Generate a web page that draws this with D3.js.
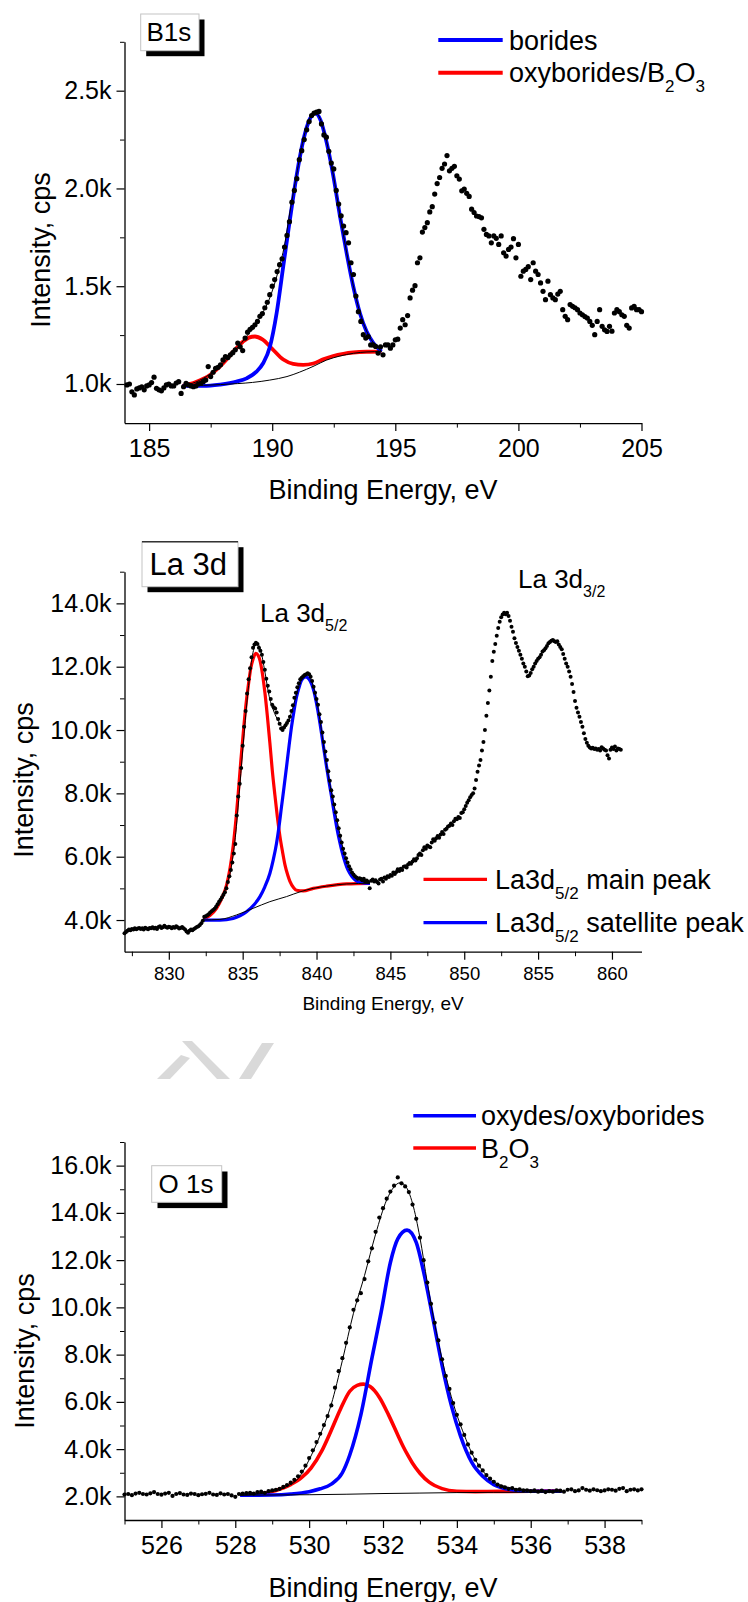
<!DOCTYPE html>
<html>
<head>
<meta charset="utf-8">
<script src="https://cdn.jsdelivr.net/npm/d3@7"></script>
<style>
  body { margin: 0; background: #fff; }
  svg { display: block; }
  text { font-family: 'Liberation Sans', Arial, Helvetica, sans-serif; fill: #000; white-space: pre; }
</style>
</head>
<body>
<svg id="chart" width="748" height="1602"></svg>
<script>
// ---------------- B 1s ----------------
const b1sStart = 184.1, b1sStep = 0.1;            // energy grid of the measured points (eV)
const b1sCounts = [                                 // intensity, k cps
  0.995,1.0,0.96,0.944,0.975,0.98,0.985,0.97,0.99,0.995,
  1.007,1.035,0.978,0.97,0.965,0.98,0.995,1.0,0.99,0.99,
  1.005,1.012,0.952,0.986,1.003,0.995,0.99,0.986,0.99,1.0,
  1.003,1.012,1.02,1.089,1.038,1.06,1.08,1.085,1.098,1.123,
  1.14,1.135,1.149,1.16,1.175,1.209,1.19,1.171,1.235,1.265,
  1.28,1.29,1.303,1.32,1.346,1.36,1.39,1.418,1.457,1.5,
  1.534,1.575,1.61,1.64,1.7,1.76,1.83,1.93,1.99,2.05,
  2.147,2.193,2.25,2.3,2.342,2.373,2.385,2.39,2.394,2.33,
  2.274,2.262,2.19,2.13,2.1,1.99,1.92,1.86,1.808,1.774,
  1.722,1.62,1.56,1.45,1.37,1.32,1.252,1.235,1.243,1.2,
  1.2,1.192,1.158,1.19,1.149,1.2,1.2,1.183,1.2,1.226,
  1.229,1.286,1.329,1.303,1.35,1.44,1.48,1.503,1.62,1.645,
  1.777,1.8,1.825,1.88,1.907,1.971,2.025,2.056,2.103,2.125,
  2.168,2.09,2.103,2.113,2.065,2.048,1.988,1.997,1.975,1.959,
  1.894,1.877,1.859,1.856,1.85,1.791,1.765,1.757,1.722,1.757,
  1.745,1.714,1.757,1.671,1.654,1.688,1.7,1.743,1.645,1.714,
  1.551,1.577,1.586,1.6,1.534,1.62,1.577,1.56,1.517,1.474,
  1.431,1.526,1.457,1.44,1.431,1.46,1.474,1.38,1.346,1.329,
  1.406,1.397,1.39,1.38,1.363,1.354,1.345,1.337,1.32,1.3,
  1.252,1.32,1.38,1.295,1.277,1.269,1.295,1.27,1.363,1.38,
  1.37,1.354,1.346,1.3,1.286,1.389,1.397,1.38,1.38,1.37
];
const b1sBackground = [[186.36,0.99],[187.2,0.993],[187.9,0.997],[188.6,1.002],[189.2,1.008],[189.9,1.02],
  [190.6,1.038],[191.1,1.06],[191.7,1.092],[192.2,1.122],[192.75,1.143],[193.3,1.157],[193.85,1.164],[194.44,1.166]];
const b1sOxyborides = [[186.36,0.99],[186.9,1.01],[187.47,1.046],[188.0,1.105],[188.4,1.163],[188.8,1.215],
  [189.05,1.237],[189.3,1.243],[189.6,1.228],[190.0,1.18],[190.45,1.125],[190.85,1.103],[191.26,1.098],
  [191.67,1.105],[192.07,1.126],[192.48,1.143],[192.89,1.154],[193.29,1.161],[193.83,1.165],[194.44,1.166]];
const b1sBorides = [[186.36,0.99],[187.2,0.99],[187.87,0.997],[188.55,1.012],[188.96,1.029],[189.36,1.063],
  [189.63,1.106],[189.91,1.192],[190.18,1.363],[190.45,1.603],[190.72,1.842],[190.99,2.065],[191.26,2.245],
  [191.53,2.356],[191.75,2.385],[191.97,2.347],[192.21,2.236],[192.48,2.065],[192.75,1.86],[193.02,1.671],
  [193.29,1.5],[193.56,1.363],[193.83,1.269],[194.11,1.209],[194.44,1.166]];
const b1sEnvelope = [[186.36,0.99],[186.9,1.01],[187.47,1.05],[188.0,1.105],[188.55,1.18],[189.0,1.25],
  [189.5,1.34],[189.9,1.44],[190.25,1.58],[190.5,1.71],[190.72,1.88],[190.99,2.07],[191.26,2.25],[191.53,2.36],
  [191.75,2.388],[191.97,2.35],[192.21,2.24],[192.48,2.07],[192.75,1.865],[193.02,1.675],[193.29,1.505],
  [193.56,1.367],[193.83,1.272],[194.11,1.21],[194.44,1.167]];
const b1sXMajor = [185, 190, 195, 200, 205], b1sXMinor = [187.5, 192.5, 197.5, 202.5];
const b1sYMajor = [1.0, 1.5, 2.0, 2.5],     b1sYMinor = [1.25, 1.75, 2.25, 2.75];

// ---------------- La 3d ----------------
const la3dStart = 827.0, la3dStep = 0.1;
const la3dCounts = [
  3.58,3.62,3.66,3.7,3.68,3.72,3.7,3.74,3.71,3.73,
  3.75,3.72,3.74,3.7,3.76,3.73,3.71,3.75,3.74,3.77,
  3.73,3.76,3.72,3.78,3.8,3.75,3.77,3.82,3.78,3.76,
  3.79,3.77,3.74,3.78,3.76,3.8,3.77,3.73,3.75,3.78,
  3.74,3.7,3.64,3.6,3.66,3.7,3.68,3.72,3.75,3.78,
  3.8,3.84,3.9,3.98,4.1,4.12,4.15,4.18,4.24,4.28,
  4.32,4.36,4.42,4.5,4.58,4.64,4.72,4.8,4.88,5.0,
  5.2,5.38,5.58,5.82,6.1,6.4,7.3,7.9,8.3,8.8,
  9.5,10.1,10.6,11.15,11.6,11.95,12.3,12.6,12.7,12.76,
  12.72,12.6,12.5,12.38,12.15,11.9,11.62,11.4,11.22,10.98,
  10.8,10.72,10.68,10.55,10.35,10.2,10.05,10.0,10.08,10.15,
  10.22,10.3,10.42,10.6,10.78,11.02,11.18,11.35,11.48,11.6,
  11.65,11.7,11.74,11.76,11.79,11.76,11.68,11.55,11.37,11.18,
  10.98,10.8,10.5,10.25,9.92,9.62,9.32,9.05,8.7,8.4,
  8.1,7.9,7.65,7.4,7.15,6.9,6.66,6.45,6.25,6.1,
  5.95,5.82,5.7,5.6,5.5,5.44,5.38,5.34,5.3,5.32,
  5.3,5.26,5.3,5.22,5.25,5.2,5.0,5.24,5.28,5.22,
  5.26,5.2,5.15,5.28,5.3,5.22,5.34,5.3,5.38,5.36,
  5.42,5.4,5.5,5.45,5.52,5.6,5.55,5.62,5.58,5.68,
  5.7,5.66,5.75,5.8,5.78,5.85,5.92,5.88,5.95,6.05,
  6.1,6.05,6.2,6.3,6.25,6.35,6.32,6.3,6.45,6.55,
  6.5,6.58,6.65,6.6,6.7,6.78,6.72,6.85,6.88,6.95,
  6.98,7.05,7.0,7.12,7.2,7.18,7.25,7.22,7.38,7.4,
  7.5,7.6,7.7,7.78,7.88,7.95,8.0,8.15,8.42,8.68,
  8.88,9.05,9.35,9.62,10.0,10.45,10.85,11.25,11.68,12.18,
  12.47,12.72,12.98,13.22,13.42,13.56,13.65,13.7,13.66,13.7,
  13.6,13.45,13.26,13.1,12.9,12.75,12.62,12.5,12.38,12.25,
  12.1,12.0,11.85,11.7,11.72,11.8,11.92,12.0,12.1,12.18,
  12.25,12.3,12.38,12.48,12.52,12.58,12.65,12.74,12.78,12.82,
  12.84,12.8,12.78,12.8,12.7,12.62,12.55,12.4,12.25,12.1,
  12.0,11.85,11.68,11.45,11.2,10.92,10.7,10.55,10.42,10.25,
  10.1,9.9,9.72,9.6,9.5,9.45,9.42,9.44,9.4,9.42,
  9.38,9.4,9.35,9.46,9.42,9.38,9.35,9.2,9.1,9.38,
  9.45,9.4,9.48,9.35,9.42,9.4,9.38
];
const la3dBackground = [[832.33,4.0],[833.46,4.02],[834.58,4.16],[835.71,4.37],[836.84,4.58],[837.97,4.74],
  [838.88,4.89],[839.78,5.0],[840.68,5.07],[842.04,5.14],[843.62,5.16]];
const la3dMain = [[832.33,4.03],[832.8,4.15],[833.23,4.37],[833.6,4.7],[833.91,5.1],[834.15,5.65],[834.36,6.35],
  [834.55,7.2],[834.7,8.0],[834.87,9.0],[835.04,9.9],[835.2,10.7],[835.38,11.4],[835.55,11.95],[835.71,12.25],
  [835.89,12.42],[836.05,12.35],[836.17,12.2],[836.33,11.8],[836.5,11.2],[836.67,10.45],[836.84,9.6],[837.0,8.75],
  [837.18,7.95],[837.35,7.25],[837.52,6.65],[837.7,6.15],[837.86,5.75],[838.05,5.42],[838.2,5.22],[838.45,5.02],
  [838.65,4.94],[839.1,4.92],[839.78,5.0],[840.68,5.07],[842.04,5.14],[843.62,5.16]];
const la3dSatellite = [[832.33,4.0],[833.46,4.0],[834.36,4.05],[835.26,4.26],[835.8,4.5],[836.17,4.74],[836.5,5.05],
  [836.84,5.47],[837.07,5.9],[837.29,6.42],[837.46,6.95],[837.63,7.58],[837.8,8.2],[837.97,8.84],[838.14,9.5],
  [838.31,10.11],[838.48,10.62],[838.65,11.05],[838.82,11.35],[838.99,11.58],[839.28,11.68],[839.5,11.6],
  [839.67,11.45],[839.84,11.2],[840.0,10.84],[840.17,10.4],[840.34,9.89],[840.51,9.35],[840.68,8.84],[840.85,8.35],
  [841.02,7.89],[841.19,7.4],[841.36,6.95],[841.53,6.55],[841.7,6.21],[841.87,5.92],[842.04,5.68],[842.25,5.48],
  [842.49,5.32],[842.75,5.22],[843.06,5.18],[843.62,5.16]];
const la3dEnvelope = [[832.33,4.05],[832.8,4.2],[833.3,4.45],[833.8,4.95],[834.2,5.6],[834.5,6.6],[834.8,8.2],
  [835.1,9.9],[835.4,11.4],[835.7,12.45],[835.95,12.75],[836.2,12.55],[836.5,11.85],[836.8,11.05],[837.1,10.6],
  [837.4,10.3],[837.7,10.1],[838.0,10.2],[838.3,10.55],[838.6,11.05],[838.9,11.5],[839.2,11.72],[839.45,11.75],
  [839.7,11.5],[840.0,10.95],[840.3,10.1],[840.6,9.1],[840.9,8.3],[841.2,7.6],[841.5,6.9],[841.8,6.25],
  [842.1,5.8],[842.4,5.5],[842.8,5.3],[843.2,5.2],[843.62,5.16]];
const la3dXMajor = [830, 835, 840, 845, 850, 855, 860];
const la3dXMinor = [827.5, 832.5, 837.5, 842.5, 847.5, 852.5, 857.5];
const la3dYMajor = [4, 6, 8, 10, 12, 14], la3dYMinor = [5, 7, 9, 11, 13, 15];

// ---------------- O 1s ----------------
const o1sStart = 525.0, o1sStep = 0.1;
const o1sCounts = [
  2.08,2.1,2.05,2.12,2.15,2.1,2.08,2.13,2.18,2.1,
  2.07,2.12,2.15,2.02,2.1,2.14,2.08,2.06,2.12,2.1,
  2.05,2.09,2.11,2.15,2.08,2.06,2.13,2.08,2.1,2.04,
  1.98,2.1,2.12,2.14,2.15,2.12,2.18,2.2,2.15,2.22,
  2.25,2.28,2.32,2.4,2.48,2.58,2.7,2.85,3.05,3.3,
  3.62,3.95,4.3,4.65,5.02,5.4,5.85,6.6,7.3,7.85,
  8.5,9.15,9.9,10.3,10.6,11.2,11.95,12.5,13.2,13.8,
  14.2,14.6,14.9,15.15,15.5,15.25,15.12,14.88,14.35,13.75,
  12.95,12.0,11.05,10.15,9.35,8.6,7.8,7.1,6.55,5.95,
  5.45,5.05,4.6,4.2,3.85,3.55,3.3,3.1,2.9,2.75,
  2.62,2.5,2.42,2.38,2.32,2.35,2.28,2.3,2.25,2.26,
  2.22,2.25,2.2,2.24,2.18,2.22,2.2,2.26,2.24,2.2,
  2.28,2.3,2.22,2.25,2.35,2.28,2.24,2.3,2.26,2.22,
  2.25,2.3,2.28,2.24,2.32,2.35,2.22,2.28,2.3,2.25,
  2.3
];
const o1sBackground = [[528.13,2.05],[530.0,2.07],[531.0,2.09],[532.0,2.12],[533.0,2.14],[534.0,2.16],
  [535.0,2.17],[536.84,2.18]];
const o1sB2O3 = [[528.17,2.06],[528.6,2.1],[529.1,2.25],[529.5,2.5],[529.8,2.8],[530.05,3.2],[530.35,3.95],
  [530.6,4.8],[530.85,5.7],[531.1,6.45],[531.3,6.7],[531.47,6.75],[531.65,6.65],[531.9,6.2],[532.15,5.45],
  [532.4,4.6],[532.55,4.1],[532.68,3.72],[532.8,3.4],[533.0,2.98],[533.25,2.6],[533.6,2.33],[534.0,2.22],
  [534.5,2.2],[535.2,2.21],[536.0,2.22],[536.84,2.24]];
const o1sOxydes = [[528.13,2.05],[529.0,2.06],[529.5,2.1],[530.0,2.2],[530.3,2.32],[530.6,2.52],[530.9,3.0],
  [531.1,3.75],[531.4,5.45],[531.7,7.85],[531.95,9.8],[532.2,11.9],[532.4,12.9],[532.65,13.27],[532.9,12.75],
  [533.1,11.5],[533.35,9.55],[533.6,7.55],[533.85,5.85],[534.1,4.55],[534.4,3.45],[534.7,2.85],[535.0,2.5],
  [535.4,2.3],[535.9,2.22],[536.84,2.22]];
const o1sEnvelope = [[528.13,2.05],[528.6,2.1],[529.0,2.2],[529.4,2.42],[529.7,2.75],[530.0,3.55],[530.3,4.6],
  [530.6,5.9],[530.9,7.75],[531.2,9.75],[531.5,11.35],[531.8,13.1],[532.1,14.55],[532.3,15.1],[532.45,15.27],
  [532.6,15.15],[532.8,14.4],[533.0,12.95],[533.2,11.05],[533.4,9.3],[533.6,7.8],[533.8,6.5],[534.0,5.45],
  [534.2,4.6],[534.4,3.85],[534.6,3.3],[534.8,2.9],[535.0,2.62],[535.3,2.42],[535.7,2.3],[536.2,2.24],[536.84,2.22]];
const o1sXMajor = [526, 528, 530, 532, 534, 536, 538], o1sXMinor = [525, 527, 529, 531, 533, 535, 537, 539];
const o1sYMajor = [2, 4, 6, 8, 10, 12, 14, 16],      o1sYMinor = [3, 5, 7, 9, 11, 13, 15, 17];

// ---------------- drawing ----------------
const svg = d3.select("#chart");
const FONT = "'Liberation Sans', Arial, Helvetica, sans-serif";
const BLUE = "#0000ff", RED = "#ff0000";
const X0 = 124.5, X1 = 641.5;

// faint watermark fragment behind the lower panel
svg.append("g").attr("fill", "#d9d9d9").selectAll("path")
  .data([
    "M157,1079 L170,1079 L190,1058 L181,1055 Z",
    "M182,1041 L192,1041 L230,1079 L217,1079 Z",
    "M262,1043 L274,1043 L251,1079 L239,1079 Z"
  ]).join("path").attr("d", d => d);

function seriesPoints(start, step, vals) {
  return vals.map((v, i) => [start + i * step, v]);
}

function drawPanel(p) {
  const x = d3.scaleLinear().domain(p.xDomain).range([X0, X1]);
  const y = d3.scaleLinear().domain(p.yDomain).range(p.yRange);
  const g = svg.append("g");
  const yBase = p.yRange[0];

  // minor ticks
  g.append("g").attr("transform", `translate(0,${yBase})`)
    .call(d3.axisBottom(x).tickValues(p.xMinor).tickSize(4.5).tickSizeOuter(0).tickFormat(""))
    .call(s => s.select(".domain").remove());
  g.append("g").attr("transform", `translate(${X0},0)`)
    .call(d3.axisLeft(y).tickValues(p.yMinor).tickSize(4.5).tickSizeOuter(0).tickFormat(""))
    .call(s => s.select(".domain").remove());

  // major ticks with labels
  const xa = g.append("g").attr("transform", `translate(0,${yBase})`)
    .call(d3.axisBottom(x).tickValues(p.xMajor).tickSize(8).tickSizeOuter(0)
      .tickPadding(p.xPad).tickFormat(d3.format("d")));
  const ya = g.append("g").attr("transform", `translate(${X0},0)`)
    .call(d3.axisLeft(y).tickValues(p.yMajor).tickSize(8).tickSizeOuter(0)
      .tickPadding(5).tickFormat(d => d3.format(".1f")(d) + "k"));
  [xa, ya].forEach(a => {
    a.attr("font-family", FONT);
    a.selectAll("line").attr("stroke", "#000").attr("stroke-width", 1.2);
    a.select(".domain").attr("stroke", "#000").attr("stroke-width", 1.3);
  });
  xa.selectAll("text").attr("font-size", p.xFont).attr("fill", "#000");
  ya.selectAll("text").attr("font-size", 25).attr("fill", "#000");

  const line = d3.line().x(d => x(d[0])).y(d => y(d[1])).curve(d3.curveMonotoneX);
  const plot = g.append("g").attr("fill", "none");
  plot.append("path").attr("d", line(p.red)).attr("stroke", RED).attr("stroke-width", p.lw);
  plot.append("path").attr("d", line(p.blue)).attr("stroke", BLUE).attr("stroke-width", p.lw);
  plot.append("path").attr("d", line(p.bg)).attr("stroke", "#000").attr("stroke-width", 1);
  plot.append("path").attr("d", line(p.env)).attr("stroke", "#000").attr("stroke-width", 1);

  g.append("g").selectAll("circle").data(p.points).join("circle")
    .attr("cx", d => x(d[0])).attr("cy", d => y(d[1])).attr("r", p.r).attr("fill", "#000");

  // axis titles
  g.append("text").attr("x", (X0 + X1) / 2).attr("y", p.xTitleY).attr("text-anchor", "middle")
    .attr("font-size", p.xTitleSize).text("Binding Energy, eV");
  g.append("text").attr("transform", `translate(${p.yTitleX},${p.yTitleCy}) rotate(-90)`)
    .attr("text-anchor", "middle").attr("font-size", 27).text("Intensity, cps");
  return { x, y, g };
}

function labelBox(b) {
  svg.append("rect").attr("x", b.x + b.sh).attr("y", b.y + b.sh).attr("width", b.w).attr("height", b.h).attr("fill", "#000");
  svg.append("rect").attr("x", b.x).attr("y", b.y).attr("width", b.w).attr("height", b.h)
    .attr("fill", "#fff").attr("stroke", "#c4c4c4").attr("stroke-width", 1);
  if (b.topLine) svg.append("line").attr("x1", b.x).attr("x2", b.x + b.w).attr("y1", b.y).attr("y2", b.y)
    .attr("stroke", "#333").attr("stroke-width", 1.5);
  svg.append("text").attr("x", b.tx).attr("y", b.ty).attr("font-size", b.fs).text(b.text);
}

function legendRow(x1, x2, yy, color, lw, tx, parts, fs) {
  svg.append("line").attr("x1", x1).attr("x2", x2).attr("y1", yy).attr("y2", yy)
    .attr("stroke", color).attr("stroke-width", lw);
  const t = svg.append("text").attr("x", tx).attr("y", yy + 9.5).attr("font-size", fs);
  let shifted = false;
  parts.forEach(pt => {
    const sub = pt.sub === true;
    const ts = t.append("tspan").text(pt.t);
    if (sub && !shifted) { ts.attr("dy", 10).attr("font-size", 17); shifted = true; }
    else if (!sub && shifted) { ts.attr("dy", -10); shifted = false; }
    else if (sub) ts.attr("font-size", 17);
  });
}

// Panel: B 1s
drawPanel({
  xDomain: [184, 205], yDomain: [0.8, 2.75], yRange: [423.1, 41.8],
  xMajor: b1sXMajor, xMinor: b1sXMinor, yMajor: b1sYMajor, yMinor: b1sYMinor,
  xPad: 8.3, xFont: 25, lw: 3.8, r: 2.6,
  points: seriesPoints(b1sStart, b1sStep, b1sCounts),
  red: b1sOxyborides, blue: b1sBorides, bg: b1sBackground, env: b1sEnvelope,
  xTitleY: 499, xTitleSize: 27, yTitleX: 50, yTitleCy: 250
});
labelBox({ x: 140.7, y: 14, w: 58.3, h: 36.7, sh: 5.5, tx: 146.5, ty: 40.7, fs: 26, text: "B1s" });
legendRow(438.3, 502.7, 40, BLUE, 4, 509, [{ t: "borides" }], 27);
legendRow(438.3, 502.7, 72.7, RED, 4, 509,
  [{ t: "oxyborides/B" }, { t: "2", sub: true }, { t: "O" }, { t: "3", sub: true }], 27);

// Panel: La 3d
drawPanel({
  xDomain: [827, 862], yDomain: [3, 15], yRange: [951.7, 571.7],
  xMajor: la3dXMajor, xMinor: la3dXMinor, yMajor: la3dYMajor, yMinor: la3dYMinor,
  xPad: 7.2, xFont: 18.5, lw: 3.2, r: 2.0,
  points: seriesPoints(la3dStart, la3dStep, la3dCounts),
  red: la3dMain, blue: la3dSatellite, bg: la3dBackground, env: la3dEnvelope,
  xTitleY: 1010, xTitleSize: 19, yTitleX: 33, yTitleCy: 780
});
labelBox({ x: 142, y: 541.7, w: 96, h: 45, sh: 5.5, tx: 149.5, ty: 575, fs: 31, text: "La 3d", topLine: true });

function peakLabel(x, y, main, sub) {
  const t = svg.append("text").attr("x", x).attr("y", y).attr("font-size", 26);
  t.append("tspan").text(main);
  t.append("tspan").attr("dy", 9).attr("font-size", 16).text(sub);
}
peakLabel(260, 621.7, "La 3d", "5/2");
peakLabel(518, 588.3, "La 3d", "3/2");
legendRow(423.5, 487, 879.3, RED, 3.2, 495,
  [{ t: "La3d" }, { t: "5/2", sub: true }, { t: " main peak" }], 27);
legendRow(423.5, 487, 922.7, BLUE, 3.2, 495,
  [{ t: "La3d" }, { t: "5/2", sub: true }, { t: " satellite peak" }], 27);

// Panel: O 1s
drawPanel({
  xDomain: [525, 539], yDomain: [1, 17], yRange: [1520, 1142],
  xMajor: o1sXMajor, xMinor: o1sXMinor, yMajor: o1sYMajor, yMinor: o1sYMinor,
  xPad: 8.3, xFont: 25, lw: 3.6, r: 2.1,
  points: seriesPoints(o1sStart, o1sStep, o1sCounts),
  red: o1sB2O3, blue: o1sOxydes, bg: o1sBackground, env: o1sEnvelope,
  xTitleY: 1597, xTitleSize: 27, yTitleX: 34, yTitleCy: 1351
});
labelBox({ x: 151.7, y: 1165.7, w: 70, h: 36.6, sh: 5.8, tx: 158.5, ty: 1192.7, fs: 26, text: "O 1s" });
legendRow(413.3, 476, 1115.7, BLUE, 3.6, 481, [{ t: "oxydes/oxyborides" }], 27);
legendRow(413.3, 476, 1148, RED, 3.6, 481,
  [{ t: "B" }, { t: "2", sub: true }, { t: "O" }, { t: "3", sub: true }], 27);
</script>
</body>
</html>
